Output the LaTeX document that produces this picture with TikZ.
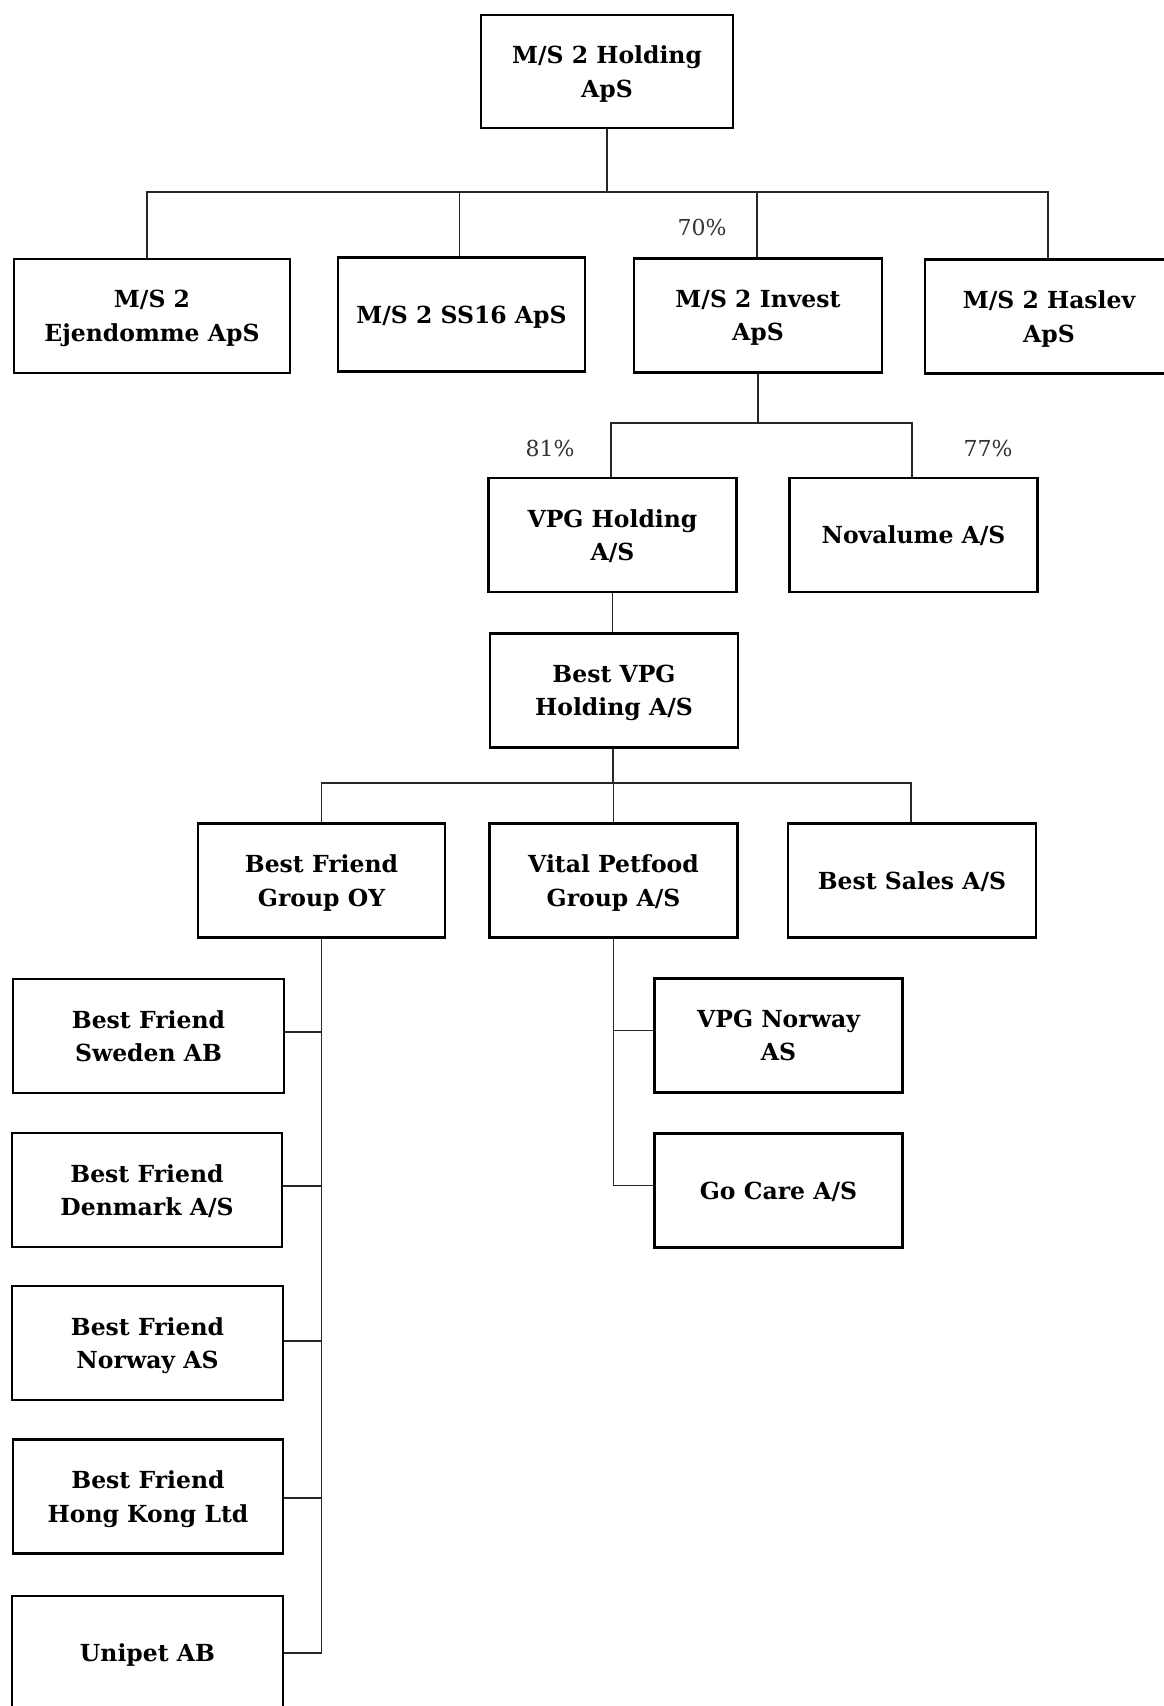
\documentclass[tikz,border=0pt]{standalone}
\usepackage{fontspec}
\setmainfont{DejaVu Serif}
\begin{document}
\begin{tikzpicture}[x=1pt,y=-1pt]
\tikzset{
  box/.style={draw=black, line width=2.5pt, minimum width=248pt, minimum height=114pt,
    inner sep=0pt, align=center, text depth=-5pt, font=\fontsize{23.5}{33.5}\selectfont\bfseries},
  conn/.style={line width=1.3pt, draw=black!85},
  pct/.style={font=\fontsize{22}{26}\selectfont, text=black!80, inner sep=0pt}
}
\fill[white] (0,0) rectangle (1163,1706);
\useasboundingbox (0,0) rectangle (1163,1706);

% level 0
\node[box, minimum width=252pt, minimum height=113pt] (top) at (607,71.5) {M/S 2 Holding\\ApS};
% level 1
\node[box, minimum width=276pt] (ejend) at (152,316) {M/S 2\\Ejendomme ApS};
\node[box, minimum width=247pt] (ss16) at (461.5,314.5) {M/S 2 SS16 ApS};
\node[box] (invest) at (758,315.5) {M/S 2 Invest\\ApS};
\node[box] (haslev) at (1049,316.5) {M/S 2 Haslev\\ApS};
% level 2
\node[box] (vpgh) at (612.5,535) {VPG Holding\\A/S};
\node[box] (nova) at (913.5,535) {Novalume A/S};
% level 3
\node[box] (bestvpg) at (614,690.5) {Best VPG\\Holding A/S};
% level 4
\node[box, minimum width=247pt] (bfg) at (321.5,880.5) {Best Friend\\Group OY};
\node[box] (vital) at (613.5,880.5) {Vital Petfood\\Group A/S};
\node[box] (sales) at (912,880.5) {Best Sales A/S};
% left column
\node[box, minimum width=271pt] (sweden) at (148.5,1036) {Best Friend\\Sweden AB};
\node[box, minimum width=270pt] (denmark) at (147,1190) {Best Friend\\Denmark A/S};
\node[box, minimum width=271pt] (norway) at (147.5,1343) {Best Friend\\Norway AS};
\node[box, minimum width=270pt] (hk) at (148,1496.5) {Best Friend\\Hong Kong Ltd};
\node[box, minimum width=271pt] (unipet) at (147.5,1653) {Unipet AB};
% right column
\node[box] (vpgnor) at (778.5,1035.5) {VPG Norway\\AS};
\node[box] (gocare) at (778.5,1190.5) {Go Care A/S};

% percentages
\node[pct] (p70) at (702,227) {70\%};
\node[pct] (p81) at (550,448) {81\%};
\node[pct] (p77) at (988,448) {77\%};

% bus coordinates
\coordinate (b1) at (607,192);
\coordinate (b2) at (758,423);
\coordinate (b3) at (613,783);

% connectors level 0 -> 1
\draw[conn] (top.south) -- (b1);
\draw[conn] ([xshift=-5pt]ejend.north) |- (b1);
\draw[conn] ([xshift=-2pt]ss16.north) |- (b1);
\draw[conn] ([xshift=-1pt]invest.north) |- (b1);
\draw[conn] ([xshift=-1pt]haslev.north) |- (b1);
% level 1 -> 2
\draw[conn] (invest.south) -- (b2);
\draw[conn] ([xshift=-1.5pt]vpgh.north) |- (b2);
\draw[conn] ([xshift=-1.5pt]nova.north) |- (b2);
% level 2 -> 3
\draw[conn] (vpgh.south) -- (vpgh.south |- bestvpg.north);
% level 3 -> 4
\draw[conn] ([xshift=-1pt]bestvpg.south) -- (b3);
\draw[conn] (bfg.north) |- (b3);
\draw[conn] (vital.north) |- (b3);
\draw[conn] ([xshift=-1pt]sales.north) |- (b3);
% Best Friend Group OY children
\draw[conn] (bfg.south) |- (unipet.east);
\draw[conn] ([yshift=4pt]sweden.east) -| (bfg.south);
\draw[conn] ([yshift=4pt]denmark.east) -| (bfg.south);
\draw[conn] ([yshift=2pt]norway.east) -| (bfg.south);
\draw[conn] ([yshift=-1.5pt]hk.east) -| (bfg.south);
% Vital Petfood children
\draw[conn] (vital.south) |- ([yshift=5pt]gocare.west);
\draw[conn] ([yshift=5pt]vpgnor.west) -| (vital.south);
\end{tikzpicture}
\end{document}
